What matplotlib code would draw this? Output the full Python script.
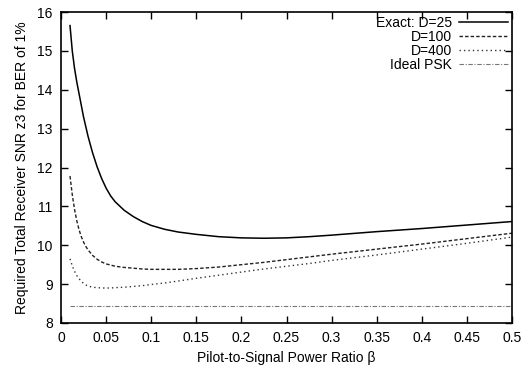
import matplotlib
matplotlib.use("Agg")
import matplotlib.pyplot as plt

plt.rcParams['font.family'] = ['Liberation Sans', 'DejaVu Sans']

beta = [0.01, 0.0125, 0.015, 0.0175, 0.02, 0.0225, 0.025, 0.0275, 0.03, 0.035,
        0.04, 0.045, 0.05, 0.055, 0.06, 0.07, 0.08, 0.09, 0.1, 0.115,
        0.13, 0.15, 0.175, 0.2, 0.225, 0.25, 0.275, 0.3, 0.35, 0.4,
        0.45, 0.5]
exact_d25 = [15.65, 15.0, 14.55, 14.2, 13.9, 13.6, 13.3, 13.05, 12.8, 12.38,
             12.02, 11.72, 11.47, 11.27, 11.12, 10.9, 10.74, 10.61, 10.51, 10.41,
             10.34, 10.28, 10.22, 10.19, 10.18, 10.19, 10.22, 10.26, 10.35, 10.43,
             10.52, 10.61]
d100 = [11.78, 11.3, 10.92, 10.63, 10.4, 10.22, 10.08, 9.97, 9.88, 9.74,
        9.64, 9.57, 9.52, 9.49, 9.46, 9.43, 9.41, 9.39, 9.38, 9.38,
        9.38, 9.4, 9.44, 9.5, 9.56, 9.63, 9.7, 9.77, 9.9, 10.03,
        10.17, 10.31]
d400 = [9.65, 9.47, 9.33, 9.22, 9.14, 9.07, 9.02, 8.98, 8.95, 8.92,
        8.91, 8.9, 8.9, 8.9, 8.91, 8.92, 8.94, 8.96, 8.99, 9.03,
        9.08, 9.15, 9.23, 9.31, 9.39, 9.46, 9.53, 9.61, 9.75, 9.9,
        10.05, 10.21]
psk_beta = [0.01, 0.5]
psk = [8.44, 8.44]

labels = ["Exact: D=25", "D=100", "D=400", "Ideal PSK"]
xticks = [0, 0.05, 0.1, 0.15, 0.2, 0.25, 0.3, 0.35, 0.4, 0.45, 0.5]
xticklabels = ["0", "0.05", "0.1", "0.15", "0.2", "0.25", "0.3", "0.35", "0.4", "0.45", "0.5"]
yticks = [8, 9, 10, 11, 12, 13, 14, 15, 16]

fig = plt.figure(figsize=(5.22, 3.70), dpi=100)
ax = fig.add_axes([61/522, 1-323/370, (512-61)/522, (323-12)/370])

ax.plot(beta, exact_d25, color='black', lw=1.1, label=labels[0])
ax.plot(beta, d100, color='#222222', lw=1.0, dashes=(2.5, 1.5), label=labels[1])
ax.plot(beta, d400, color='#333333', lw=1.0, dashes=(1, 2.2), label=labels[2])
ax.plot(psk_beta, psk, color='#777777', lw=0.8, dashes=(4, 1.5, 1, 1.5), label=labels[3])

ax.set_xlim(0, 0.5)
ax.set_ylim(8, 16)
ax.set_xticks(xticks)
ax.set_xticklabels(xticklabels)
ax.set_yticks(yticks)
ax.tick_params(direction='in', top=True, right=True, length=5, width=1,
               labelsize=10, pad=6)
for s in ax.spines.values():
    s.set_linewidth(1.2)

ax.set_xlabel("Pilot-to-Signal Power Ratio β", fontsize=10, labelpad=4)
ax.set_ylabel("Required Total Receiver SNR z3 for BER of 1%", fontsize=10, labelpad=6)

ax.legend(loc='upper right', frameon=False, markerfirst=False, fontsize=10,
          handlelength=3.5, labelspacing=0.0, borderaxespad=0.0, borderpad=0.3,
          handletextpad=0.5)

fig.savefig("out.png", dpi=100)
